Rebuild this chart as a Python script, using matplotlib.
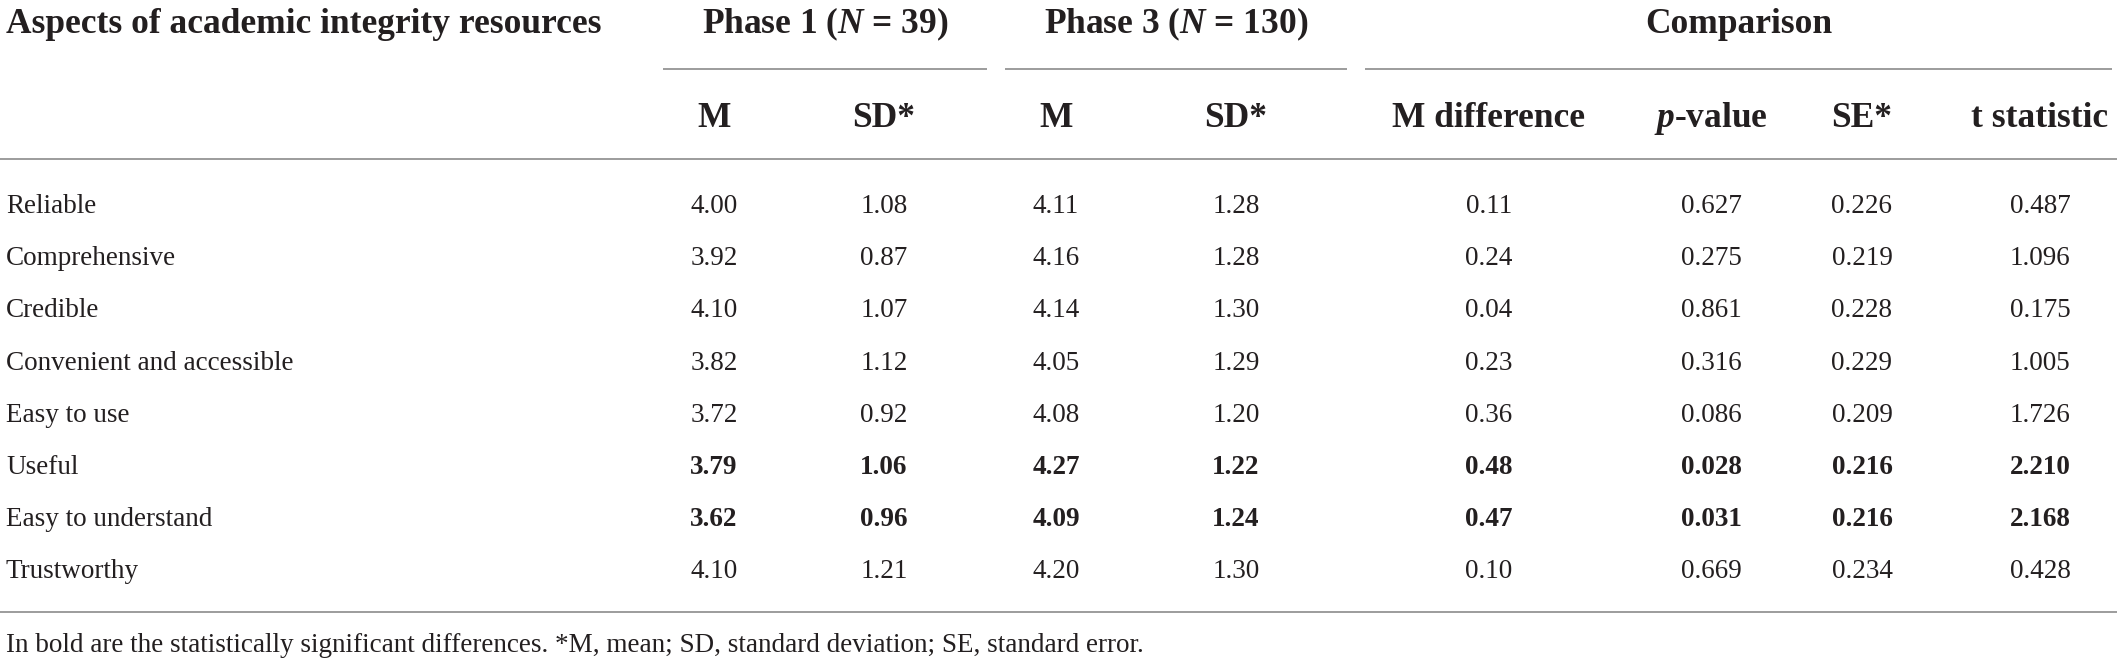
import matplotlib
matplotlib.use("Agg")
import matplotlib.pyplot as plt

plt.rcParams["font.family"] = ["Liberation Serif", "DejaVu Serif"]
plt.rcParams["mathtext.fontset"] = "custom"
plt.rcParams["mathtext.it"] = "Liberation Serif:italic:bold"
plt.rcParams["mathtext.rm"] = "Liberation Serif:bold"

# table data
aspects = ["Reliable", "Comprehensive", "Credible", "Convenient and accessible",
           "Easy to use", "Useful", "Easy to understand", "Trustworthy"]
phase1_m = [4.00, 3.92, 4.10, 3.82, 3.72, 3.79, 3.62, 4.10]
phase1_sd = [1.08, 0.87, 1.07, 1.12, 0.92, 1.06, 0.96, 1.21]
phase3_m = [4.11, 4.16, 4.14, 4.05, 4.08, 4.27, 4.09, 4.20]
phase3_sd = [1.28, 1.28, 1.30, 1.29, 1.20, 1.22, 1.24, 1.30]
m_diff = [0.11, 0.24, 0.04, 0.23, 0.36, 0.48, 0.47, 0.10]
p_values = [0.627, 0.275, 0.861, 0.316, 0.086, 0.028, 0.031, 0.669]
se = [0.226, 0.219, 0.228, 0.229, 0.209, 0.216, 0.216, 0.234]
t_stat = [0.487, 1.096, 0.175, 1.005, 1.726, 2.210, 2.168, 0.428]
significant = [False, False, False, False, False, True, True, False]

groups = ["Phase 1 ($N$ = 39)", "Phase 3 ($N$ = 130)", "Comparison"]
sub_headers = ["M", "SD*", "M", "SD*", "M difference", "$p$-value", "SE*", "t statistic"]
footnote = ("In bold are the statistically significant differences. "
            "*M, mean; SD, standard deviation; SE, standard error.")

columns = [(phase1_m, "{:.2f}"), (phase1_sd, "{:.2f}"), (phase3_m, "{:.2f}"),
           (phase3_sd, "{:.2f}"), (m_diff, "{:.2f}"), (p_values, "{:.3f}"),
           (se, "{:.3f}"), (t_stat, "{:.3f}")]

# layout in pixels
W, H = 2117, 665
col_x = [714, 884, 1056, 1236, 1489, 1711, 1862, 2040]
group_spans = [(663, 987), (1005, 1347), (1365, 2112)]
row0, row_step = 213, 52.2
TXT = "#231f20"
LINE = "#9c9c9c"
HEAD_FS = 25.5
BODY_FS = 19.5

fig = plt.figure(figsize=(W / 100, H / 100), dpi=100)
ax = fig.add_axes([0, 0, 1, 1])
ax.set_xlim(0, W)
ax.set_ylim(H, 0)
ax.axis("off")

ax.text(6, 33, "Aspects of academic integrity resources", fontsize=HEAD_FS,
        fontweight="bold", color=TXT, va="baseline", ha="left")
for label, (x0, x1) in zip(groups, group_spans):
    ax.text((x0 + x1) / 2, 33, label, fontsize=HEAD_FS, fontweight="bold",
            color=TXT, va="baseline", ha="center")
    ax.plot([x0, x1], [69, 69], color=LINE, lw=1.4, solid_capstyle="butt")

for label, x in zip(sub_headers, col_x):
    ax.text(x, 127, label, fontsize=HEAD_FS, fontweight="bold", color=TXT,
            va="baseline", ha="center")

ax.plot([0, W], [159, 159], color=LINE, lw=1.4)

for i, name in enumerate(aspects):
    y = row0 + i * row_step
    ax.text(6, y, name, fontsize=BODY_FS, color=TXT, va="baseline", ha="left")
    weight = "bold" if significant[i] else "normal"
    for (vals, fmt), x in zip(columns, col_x):
        ax.text(x, y, fmt.format(vals[i]), fontsize=BODY_FS, fontweight=weight,
                color=TXT, va="baseline", ha="center")

ax.plot([0, W], [612, 612], color=LINE, lw=1.4)
ax.text(6, 652, footnote, fontsize=BODY_FS, color=TXT, va="baseline", ha="left")

fig.savefig("out.png", dpi=100)
